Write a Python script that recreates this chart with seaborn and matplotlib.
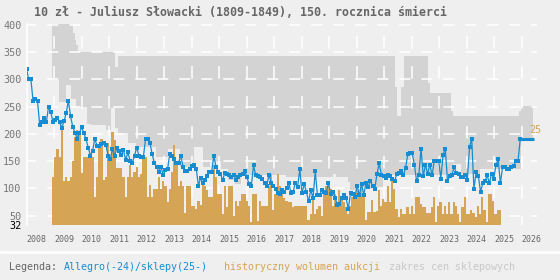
#import
import numpy as np
import matplotlib
matplotlib.use('Agg')
import matplotlib.pyplot as plt
import seaborn as sns


#ceny z aukcji (Allegro), kolejne miesiace od 2008
ceny = [320, 300, 300, 260, 265, 260, 216, 221, 230, 221, 250, 241, 221, 226, 230,
        221, 211, 223, 238, 261, 232, 213, 202, 191, 202, 212, 202, 190, 175,
        160, 169, 191, 178, 178, 181, 184, 180, 160, 154, 172, 160, 174, 168, 162,
        170, 152, 166, 151, 147, 160, 175, 160, 158, 157, 190, 190, 184,
        163, 147, 140, 130, 140, 124, 134, 135, 163, 159, 154, 146, 147, 160, 140,
        131, 131, 135, 141, 142, 136, 105, 119, 110, 115, 122, 130, 130, 160,
        139, 130, 126, 115, 129, 127, 125, 120, 125, 116, 121, 125, 126, 132, 120,
        108, 104, 142, 124, 122, 121, 117, 110, 104, 125, 110, 105, 98, 91,
        89, 97, 94, 100, 110, 91, 94, 110, 103, 135, 91, 108, 93, 76, 97,
        82, 131, 88, 88, 97, 94, 91, 110, 89, 94, 83, 70, 71, 83,
        88, 82, 62, 91, 89, 84, 105, 87, 108, 88, 109, 103, 114, 105, 99,
        126, 146, 125, 122, 119, 124, 122, 117, 114, 126, 129, 132, 124, 138, 163,
        164, 164, 143, 113, 124, 173, 122, 143, 127, 143, 124, 151, 150, 151, 118,
        162, 173, 114, 122, 124, 139, 128, 126, 120, 120, 125, 116, 176, 191, 99, 130,
        122, 94, 109, 113, 124, 109, 127, 118, 143, 153, 109, 139, 140, 135, 135,
        140, 141, 151, 150, 190]
ceny_od, ceny_do = 2008.0, 2025.95

#aktualna cena w sklepach
sklep_cena = 190
sklep_od, sklep_do = 2025.95, 2026.45
sklep_etykieta = '25'

#historyczny wolumen aukcji (wysokosc slupka na skali cen)
wolumen = [121, 157, 172, 157, 216, 113, 121, 113, 121, 150, 194, 208, 200, 128, 157, 157, 157, 165,
           157, 84, 121, 178, 190, 115, 121, 184, 152, 203, 188, 138, 138, 138, 121,
           84, 121, 143, 121, 130, 139, 121, 127, 160, 157, 84, 106, 84, 98,
           99, 121, 99, 113, 105, 75, 98, 130, 179, 151, 105, 113, 105, 54, 105,
           105, 68, 68, 62, 76, 70, 113, 105, 96, 84, 84, 142, 121, 90, 90,
           53, 105, 65, 105, 105, 50, 76, 68, 76, 90, 90, 76, 68, 38, 90,
           90, 39, 76, 68, 68, 68, 105, 127, 60, 90, 127, 105, 90, 82, 76,
           75, 75, 65, 68, 68, 68, 68, 68, 68, 41, 53, 84, 53, 62, 68,
           50, 96, 105, 105, 99, 68, 90, 75, 96, 84, 75, 65, 53, 67, 84,
           84, 96, 84, 102, 90, 41, 56, 56, 78, 56, 59, 96, 68, 81, 75,
           105, 75, 114, 99, 62, 47, 62, 53, 53, 65, 53, 68, 53, 84,
           84, 72, 65, 65, 54, 54, 65, 84, 38, 68, 75, 53, 68, 53, 75,
           53, 75, 68, 53, 38, 65, 84, 53, 53, 60, 54, 47, 68, 53, 84,
           61, 38, 90, 90, 76, 53, 61, 61]
wolumen_od, wolumen_do = 2008.93, 2025.25

#zakres cen sklepowych (schodki)
zakres_lata = [2008.93, 2009.18, 2009.44, 2009.62, 2009.69, 2009.76, 2009.80, 2009.87,
               2010.20, 2010.35, 2010.89, 2011.07, 2011.22, 2011.33, 2011.69, 2011.98,
               2012.71, 2013.15, 2013.58, 2014.09, 2014.42, 2014.67, 2015.07, 2015.33,
               2015.58, 2015.80, 2017.44, 2019.15, 2019.25, 2019.69, 2019.76, 2020.24,
               2020.96, 2021.40, 2021.47, 2021.62, 2021.73, 2022.60, 2022.67, 2023.44,
               2023.51, 2023.80, 2024.49, 2025.91, 2025.98, 2026.42]
zakres_min = [299, 258, 290, 265, 265, 265, 250, 250,
              218, 216, 207, 247, 210, 201, 183, 176,
              157, 173, 139, 176, 139, 151, 136, 115,
              108, 124, 121, 127, 121, 111, 96, 100,
              124, 124, 124, 124, 124, 124, 124, 124,
              145, 127, 135, 135, 193, 193]
zakres_max = [420, 420, 420, 420, 385, 372, 363, 351,
              351, 351, 351, 351, 323, 343, 343, 343,
              343, 343, 343, 343, 343, 343, 343, 343,
              343, 343, 343, 343, 343, 343, 343, 343,
              343, 286, 233, 286, 343, 293, 275, 243,
              233, 233, 233, 243, 251, 251]

lata_osi = list(range(2008, 2027))
y_ticks = [50, 100, 150, 200, 250, 300, 350, 400]

tytul = '10 zł - Juliusz Słowacki (1809-1849), 150. rocznica śmierci'

#colors
bg = '#efefef'
niebieski = '#178cd0'
pomarancz = '#d5a455'
szary = '#d3d3d3'
bialy = '#ffffff'


if __name__ == '__main__':
    sns.set_style('white', rc={'axes.facecolor': bg, 'figure.facecolor': bg})
    plt.rcParams['font.family'] = ['DejaVu Sans Mono', 'DejaVu Sans']

    fig = plt.figure(figsize=(5.6, 2.8), dpi=100)
    ax = fig.add_axes([26.5 / 560, 1 - 225.3 / 280, (537 - 26.5) / 560, (225.3 - 24) / 280])

    #zakres cen sklepowych
    ax.fill_between(zakres_lata, zakres_min, zakres_max, step='post',
                    color=szary, lw=0, zorder=0.2)

    #dashed white grid (over the range, under the bars)
    ax.vlines(lata_osi[1:], 402, 32, colors=bialy, linewidth=1.1,
              linestyles=[(11.7, (8.3, 11.3))], zorder=1)
    ax.hlines(y_ticks, 2008.0, 2026.56, colors=bialy, linewidth=1.1,
              linestyles=[(1.1, (7.2, 7.2))], zorder=1)

    #wolumen
    krawedzie = np.linspace(wolumen_od, wolumen_do, len(wolumen) + 1)
    ax.bar(krawedzie[:-1], np.array(wolumen) - 32, width=np.diff(krawedzie),
           bottom=32, align='edge', color=pomarancz, lw=0, zorder=2)

    #ceny
    lata = np.linspace(ceny_od, ceny_do, len(ceny))
    sns.lineplot(x=lata, y=ceny, ax=ax, color=niebieski, lw=0.9, marker='s',
                 markersize=2.6, markeredgewidth=0, zorder=3)
    ax.plot([sklep_od, sklep_do], [sklep_cena, sklep_cena], color=niebieski,
            lw=2.2, solid_capstyle='butt', zorder=3)
    ax.text(sklep_do - 0.17, sklep_cena + 18, sklep_etykieta, color=pomarancz,
            fontsize=7.4, ha='left', va='center')

    #axes
    ax.set_xlim(2008.0, 2026.56)
    ax.set_ylim(32, 402)
    ax.grid(False)
    ax.set_xticks(lata_osi)
    ax.set_xticklabels([str(r) for r in lata_osi], ha='left')
    ax.set_yticks(y_ticks)
    ax.set_yticks([32], minor=True)
    ax.set_yticklabels(['32'], minor=True)
    ax.tick_params(axis='x', length=0, pad=7, labelsize=6, labelcolor='#666666')
    ax.tick_params(axis='y', which='both', length=0, pad=3.5, labelsize=7.3,
                   labelcolor='#777777')
    ax.tick_params(axis='y', which='minor', labelcolor='black')
    ax.set_xlabel('')
    ax.set_ylabel('')

    for s in ['top', 'right', 'bottom']:
        ax.spines[s].set_visible(False)
    ax.spines['left'].set_color(bialy)
    ax.spines['left'].set_linewidth(1.2)

    #title
    fig.text(34 / 560, 1 - 12.5 / 280, tytul, fontsize=8.4, fontweight='bold',
             color='#666666', ha='left', va='center')

    #legend
    fig.add_artist(plt.Line2D([0, 1], [1 - 251.5 / 280] * 2, color=bialy, lw=2))
    ly = 1 - 267 / 280
    fig.text(9.3 / 560, ly, 'Legenda:', fontsize=7.2, color='#666666', va='center')
    fig.text(64 / 560, ly, 'Allegro(-24)/sklepy(25-)', fontsize=7.2, color=niebieski, va='center')
    fig.text(224 / 560, ly, 'historyczny wolumen aukcji', fontsize=7.2, color=pomarancz, va='center')
    fig.text(389 / 560, ly, 'zakres cen sklepowych', fontsize=7.2, color='#c8c8c8', va='center')

    plt.savefig('out.png', dpi=100, facecolor=bg)
